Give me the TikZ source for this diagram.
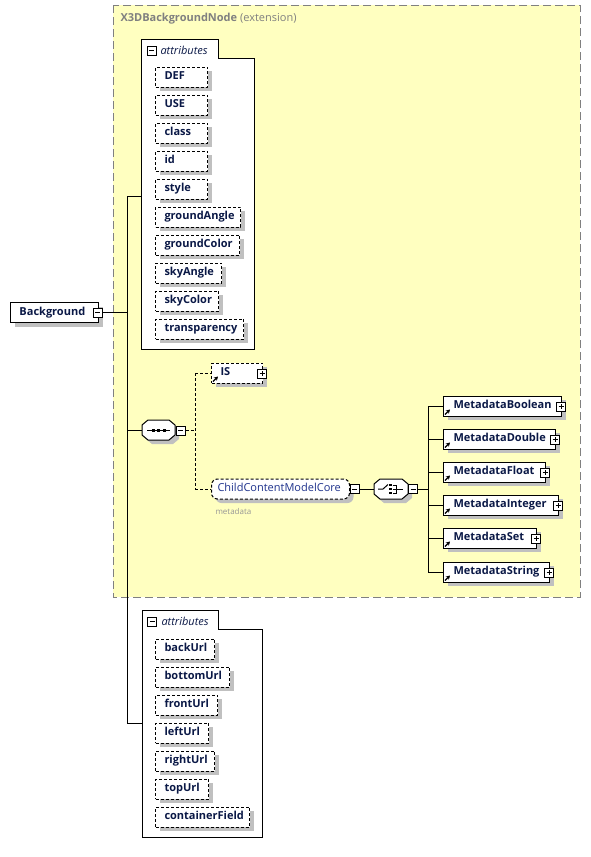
\documentclass[tikz,border=0pt]{standalone}
\usepackage{fontspec}
\setmainfont{Open Sans}
\usetikzlibrary{shadows,arrows.meta}
\definecolor{yfill}{RGB}{255,255,192}
\definecolor{ygray}{RGB}{128,128,128}
\definecolor{shad}{RGB}{192,192,192}
\definecolor{navy}{RGB}{10,24,70}
\definecolor{cblue}{RGB}{30,50,140}
\definecolor{mgray}{RGB}{150,150,150}
\newcommand\xsoctpath[4]{(#1,#2+5) -- (#1+6,#2) -- (#3-6,#2) -- (#3,#2+5) -- (#3,#4-5) -- (#3-6,#4) -- (#1+6,#4) -- (#1,#4-5) -- cycle}
\newcommand\xsoct[4]{%
  \begin{scope}[shift={(4,4)}]\fill[shad] \xsoctpath{#1}{#2}{#3}{#4};\end{scope}
  \draw[fill=white] \xsoctpath{#1}{#2}{#3}{#4};}
\begin{document}
\begin{tikzpicture}[x=1pt,y=-1pt,line width=1pt,
  shadowed/.style={drop shadow={shadow xshift=4pt,shadow yshift=-4pt,fill=shad,opacity=1}},
  elem/.style={draw, fill=white, shadowed, anchor=west, minimum height=20pt, inner ysep=0pt,
    align=left, font=\bfseries\fontsize{11}{13}\selectfont, text=navy, text height=8pt, text depth=2.5pt},
  attr/.style={elem, dash pattern=on 3pt off 2pt, inner xsep=9pt},
  meta/.style={elem, inner xsep=10pt},
  pm/.style={draw, fill=white, rectangle, minimum size=9pt, inner sep=0pt, line width=1pt},
  minus/.style={pm, path picture={\draw[line width=1pt] ([xshift=2pt]path picture bounding box.west) -- ([xshift=-2pt]path picture bounding box.east);}},
  plus/.style={pm, path picture={\draw[line width=1pt] ([xshift=2pt]path picture bounding box.west) -- ([xshift=-2pt]path picture bounding box.east) ([yshift=-2pt]path picture bounding box.north) -- ([yshift=2pt]path picture bounding box.south);}},
  conn/.style={line width=1pt},
  dconn/.style={line width=1pt, dash pattern=on 3pt off 2pt},
  refarr/.style={-{Stealth[length=4pt,width=4.5pt]}, line width=1.2pt},
  grptitle/.style={anchor=west, inner sep=0pt, font=\itshape\fontsize{11}{13}\selectfont, text=navy}
]
\useasboundingbox (0,0) rectangle (590,857);

% extension region
\fill[yfill] (113,5) rectangle (580,597);
\draw[ygray, dash pattern=on 8pt off 4pt] (113,5) rectangle (580,597);
\node[anchor=west, inner sep=0pt, font=\fontsize{11}{13}\selectfont, text=ygray] (title) at (120,19) {\textbf{X3DBackgroundNode} (extension)};

% spine
\coordinate (s1) at (127,196);
\coordinate (s2) at (127,312.5);
\coordinate (s3) at (127,430);
\coordinate (s4) at (127,723);
\coordinate (g1) at (141,196);
\coordinate (g2) at (142,723);
\draw[conn] (s1) -- (s4);
\draw[conn] (s1) -- (g1);
\draw[conn] (s4) -- (g2);

% attribute group 1
\draw[fill=white] (141,39) -- (218,39) -- (218,58) -- (254,58) -- (254,349) -- (141,349) -- cycle;
\node[minus] (g1m) at (151.5,50.5) {};
\node[grptitle] (g1t) at (160,50) {attributes};
\foreach \t/\w [count=\i from 0, evaluate=\w as \tw using \w-18] in
  {DEF/52,USE/52,class/52,id/52,style/52,groundAngle/85,groundColor/84,skyAngle/66,skyColor/63,transparency/88}
  \node[attr, text width=\tw pt] (a1-\i) at (155,{77+28*\i}) {\t};

% attribute group 2
\draw[fill=white] (142,610) -- (218,610) -- (218,629) -- (262,629) -- (262,837) -- (142,837) -- cycle;
\node[minus] (g2m) at (152,621.5) {};
\node[grptitle] (g2t) at (161,621) {attributes};
\foreach \t/\w [count=\i from 0, evaluate=\w as \tw using \w-18] in
  {backUrl/59,bottomUrl/74,frontUrl/62,leftUrl/53,rightUrl/59,topUrl/53,containerField/94}
  \node[attr, text width=\tw pt] (a2-\i) at (155,{649+28*\i}) {\t};

% Background
\node[elem, inner xsep=9pt, text width=70pt] (bg) at (10,312.5) {Background};
\node[minus] (bgm) at (97.5,312.5) {};
\draw[conn] (bgm.east) -- (s2);

% sequence
\xsoct{142}{420}{175}{440}
\node[minimum width=33pt, minimum height=20pt, inner sep=0pt] (seq) at (158.5,430) {};
\draw[line width=1pt] (147,430) -- (170,430);
\foreach \dx in {153,158.5,164} \fill (\dx-1.5,428.5) rectangle (\dx+1.5,431.5);
\node[minus] (seqm) at (180.5,430.5) {};
\draw[conn] (s3) -- (seq.west);
\coordinate (d0) at (195,430.5);
\coordinate (d1) at (195,373);
\coordinate (d2) at (195,489);
\draw[dconn] (seqm.east) -- (d0);
\draw[dconn] (d1) -- (d2);

% IS
\node[attr, text width=33pt] (IS) at (211,373) {IS};
\node[plus] (ISp) at (262,373.5) {};
\draw[refarr] ([xshift=2pt,yshift=2pt]IS.south west) -- ++(5,-5);
\draw[dconn] (d1) -- (IS.west);

% ChildContentModelCore
\node[elem, rounded corners=6pt, dash pattern=on 3pt off 2pt, font=\fontsize{11}{13}\selectfont, text=cblue, inner xsep=6pt, text width=126pt] (ccmc) at (211,489) {ChildContentModelCore};
\node[minus] (ccm) at (354.5,489) {};
\node[anchor=west, inner sep=0pt, font=\fontsize{8}{10}\selectfont, text=mgray] (mdl) at (215,511) {metadata};
\draw[dconn] (d2) -- (ccmc.west);

% choice
\xsoct{374}{479}{408}{499}
\node[minimum width=34pt, minimum height=20pt, inner sep=0pt] (ch) at (391,489) {};
\draw[line width=1pt] (378,489) -- (383,489) -- (388,484.5);
\foreach \dy in {485,489,493} \fill (389.2,\dy-1.2) rectangle (391.6,\dy+1.2);
\draw[line width=1pt] (392.5,485) -- (396,485) -- (396,493) -- (392.5,493) (392.5,489) -- (403,489);
\node[minus] (chm) at (413,489) {};
\draw[conn] (ccm.east) -- (ch.west);
\coordinate (v0) at (428,489);
\coordinate (vt) at (428,406);
\coordinate (vb) at (428,572);
\draw[conn] (chm.east) -- (v0);
\draw[conn] (vt) -- (vb);

% metadata elements
\foreach \t/\w/\y [count=\i, evaluate=\w as \tw using \w-20] in
  {MetadataBoolean/118/406,MetadataDouble/112/439,MetadataFloat/102/472,MetadataInteger/115/505,MetadataSet/93/538,MetadataString/106/572}
{
  \node[meta, text width=\tw pt] (m\i) at (443,\y) {\t};
  \node[plus] (m\i p) at (443+\w,\y+0.5) {};
  \draw[refarr] ([xshift=2pt,yshift=2pt]m\i.south west) -- ++(5,-5);
  \draw[conn] (428,\y) -- (m\i.west);
}
\end{tikzpicture}
\end{document}
